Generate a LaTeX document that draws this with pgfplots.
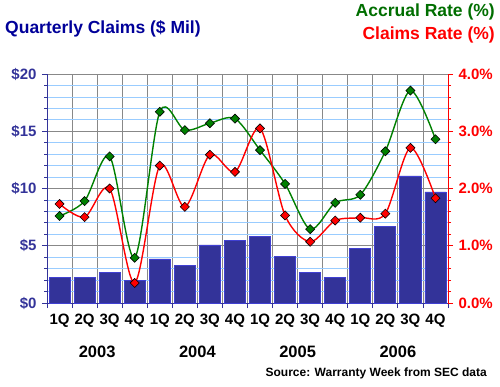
\documentclass[border=0pt]{standalone}
\usepackage{pgfplots}
\pgfplotsset{compat=1.18}
\usepackage{fontspec}
\setmainfont{Liberation Sans}
\definecolor{barfill}{RGB}{51,51,153}
\definecolor{baredge}{RGB}{64,64,210}
\definecolor{navytitle}{RGB}{0,0,153}
\definecolor{ticknavy}{RGB}{51,51,153}
\definecolor{accg}{RGB}{0,128,0}
\definecolor{acclabel}{RGB}{0,110,0}
\definecolor{gridgray}{RGB}{136,136,136}
\definecolor{gridblue}{RGB}{153,204,255}
\pgfplotstableread{
x claims
0 2.2
1 2.2
2 2.7
3 2.0
4 3.85
5 3.25
6 5.07
7 5.5
8 5.85
9 4.1
10 2.7
11 2.2
12 4.8
13 6.72
14 11.1
15 9.7
}\claims
\pgfplotstableread{
x accrual
0 1.52
1 1.78
2 2.56
3 0.79
4 3.34
5 3.02
6 3.14
7 3.22
8 2.67
9 2.08
10 1.29
11 1.75
12 1.89
13 2.65
14 3.71
15 2.86
}\accrual
\pgfplotstableread{
x rate
0 1.73
1 1.50
2 2.00
3 0.35
4 2.40
5 1.68
6 2.59
7 2.29
8 3.05
9 1.53
10 1.07
11 1.44
12 1.49
13 1.56
14 2.71
15 1.83
}\crate
\begin{document}
\begin{tikzpicture}[x=1pt,y=1pt]
\useasboundingbox (0,0) rectangle (500,386);
\begin{axis}[
  at={(47pt,83pt)}, anchor=south west, scale only axis,
  width=401pt, height=229pt,
  xmin=-0.5, xmax=15.5, ymin=0, ymax=20,
  axis x line*=bottom, axis y line*=left,
  x axis line style={ticknavy, line width=1pt, -},
  y axis line style={ticknavy, line width=1pt, -},
  xtick={-0.5,0.5,...,15.5}, xticklabels={},
  ytick={0,5,10,15,20},
  yticklabels={\$0,\$5,\$10,\$15,\$20},
  minor y tick num=4,
  tick align=outside,
  major tick length=5pt, minor tick length=3pt,
  tick style={ticknavy, line width=0.8pt},
  xmajorgrids, ymajorgrids, yminorgrids,
  major grid style={gridgray, line width=0.8pt},
  minor grid style={gridblue, line width=0.8pt},
  yticklabel style={font=\bfseries\fontsize{15}{15}\selectfont, text=ticknavy, xshift=-2pt},
  clip=false,
]
\addplot[ybar, bar width=0.84, fill=barfill, draw=baredge, line width=0.8pt] table[x=x,y=claims] {\claims};
\end{axis}
\begin{axis}[
  at={(47pt,83pt)}, anchor=south west, scale only axis,
  width=401pt, height=229pt,
  xmin=-0.5, xmax=15.5, ymin=0, ymax=4,
  axis x line=none, axis y line*=right,
  y axis line style={red, line width=1pt, -},
  ytick={0,1,2,3,4},
  yticklabels={0.0\%,1.0\%,2.0\%,3.0\%,4.0\%},
  minor y tick num=4,
  tick align=outside,
  major tick length=5pt, minor tick length=3pt,
  tick style={red, line width=0.8pt},
  yticklabel style={font=\bfseries\fontsize{15}{15}\selectfont, text=red, xshift=2pt},
  clip=false,
]
\addplot[smooth, tension=0.5, accg, line width=1.4pt, mark=square*, mark size=3.2pt,
  mark options={fill=accg, draw=black, line width=0.6pt, solid, rotate=45}] table[x=x,y=accrual] {\accrual};
\addplot[smooth, tension=0.5, red, line width=1.4pt, mark=square*, mark size=3.2pt,
  mark options={fill=red, draw=black, line width=0.6pt, solid, rotate=45}] table[x=x,y=rate] {\crate};
\end{axis}
\foreach \q [count=\i from 0] in {1Q,2Q,3Q,4Q,1Q,2Q,3Q,4Q,1Q,2Q,3Q,4Q,1Q,2Q,3Q,4Q}
  \node[font=\bfseries\fontsize{15}{15}\selectfont, inner sep=0pt] at ({47+25.0625*(\i+0.5)}, 65) {\q};
\foreach \y/\p in {2003/1.5, 2004/5.5, 2005/9.5, 2006/13.5}
  \node[font=\bfseries\fontsize{16.5}{16.5}\selectfont, inner sep=0pt] at ({47+25.0625*(\p+0.5)}, 34) {\y};
\node[font=\bfseries\fontsize{12}{12}\selectfont, anchor=east, inner sep=0pt] at (487, 13) {Source: Warranty Week from SEC data};
\node[font=\bfseries\fontsize{17.5}{17.5}\selectfont, anchor=west, inner sep=0pt, text=navytitle] at (5, 357) {Quarterly Claims (\$ Mil)};
\node[font=\bfseries\fontsize{17.5}{17.5}\selectfont, anchor=east, inner sep=0pt, text=acclabel] at (495, 374) {Accrual Rate (\%)};
\node[font=\bfseries\fontsize{17.5}{17.5}\selectfont, anchor=east, inner sep=0pt, text=red] at (495, 351) {Claims Rate (\%)};
\end{tikzpicture}
\end{document}
